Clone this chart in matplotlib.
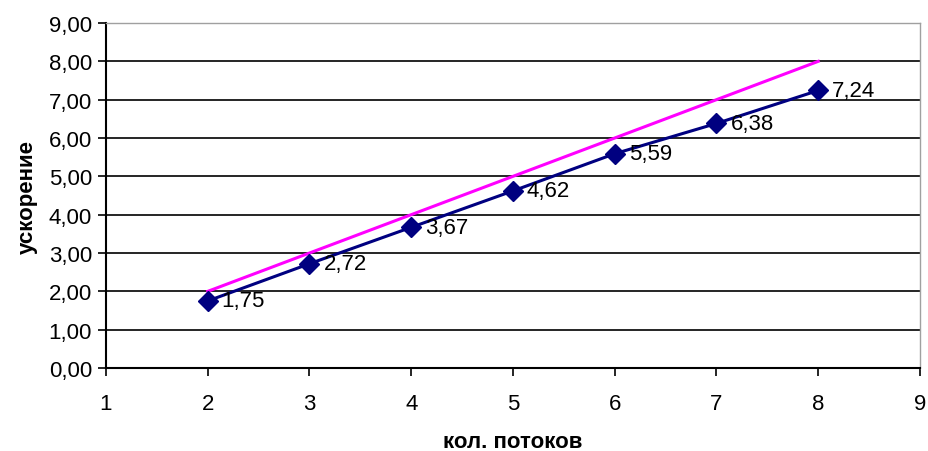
import matplotlib
matplotlib.use("Agg")
import matplotlib.pyplot as plt
from matplotlib.ticker import FixedLocator, FuncFormatter

plt.rcParams['font.family'] = ['Liberation Sans', 'DejaVu Sans']

threads = [2, 3, 4, 5, 6, 7, 8]
speedup = [1.75, 2.72, 3.67, 4.62, 5.59, 6.38, 7.24]
ideal = [2, 3, 4, 5, 6, 7, 8]

fig = plt.figure(figsize=(9.29, 4.52), dpi=100)
ax = fig.add_axes([0.1141, 0.1836, 0.8762, 0.7633])

ax.set_xlim(1, 9)
ax.set_ylim(0, 9)

# horizontal grid lines
ax.yaxis.set_major_locator(FixedLocator(range(0, 10)))
ax.xaxis.set_major_locator(FixedLocator(range(1, 10)))
ax.grid(axis='y', color='black', linewidth=1.2, zorder=0)
ax.set_axisbelow(True)

ax.plot(threads, ideal, color='#FF00FF', linewidth=2.2, zorder=3)
ax.plot(threads, speedup, color='#000080', linewidth=2.2, marker='D',
        markersize=10.5, markerfacecolor='#000080', markeredgecolor='#000080',
        zorder=4)

for x, y in zip(threads, speedup):
    ax.annotate(f"{y:.2f}".replace('.', ','), (x, y), xytext=(10, 0),
                textcoords='offset points', ha='left', va='center',
                fontsize=16, color='black', zorder=5)

ax.yaxis.set_major_formatter(FuncFormatter(lambda v, p: f"{v:.2f}".replace('.', ',')))
ax.xaxis.set_major_formatter(FuncFormatter(lambda v, p: f"{int(v)}"))

ax.tick_params(axis='both', labelsize=16, colors='black', direction='out',
               length=6, width=1.2)
ax.tick_params(axis='x', pad=12)
ax.tick_params(axis='y', pad=4)

for side in ['top', 'right']:
    ax.spines[side].set_color('#a0a0a0')
    ax.spines[side].set_linewidth(1.0)
for side in ['left', 'bottom']:
    ax.spines[side].set_color('black')
    ax.spines[side].set_linewidth(1.5)

ax.set_xlabel('кол. потоков', fontsize=16, fontweight='bold', labelpad=12)
ax.set_ylabel('ускорение', fontsize=16, fontweight='bold', labelpad=8)

fig.savefig('out.png', dpi=100, facecolor='white')
